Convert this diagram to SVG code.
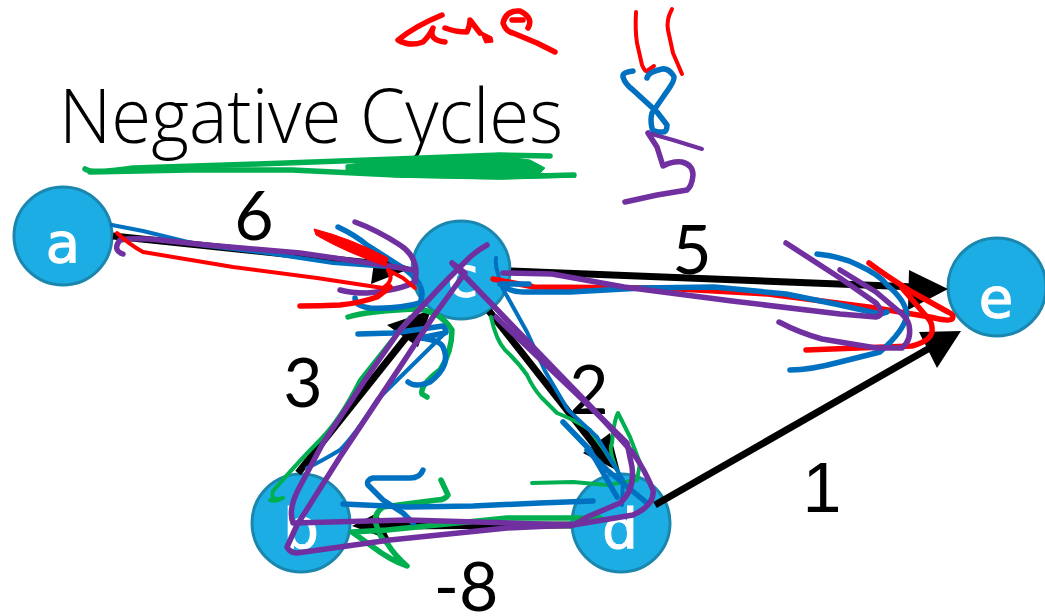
<svg xmlns="http://www.w3.org/2000/svg" width="1045" height="616" viewBox="0 0 1045 616">
<style>
.n{fill:#1CADE4;stroke:#1B87AE;stroke-width:3}
.nt{font-family:"DejaVu Sans",sans-serif;font-size:56px;fill:#fff;stroke:#fff;stroke-width:1.2px;text-anchor:middle}
.w{font-family:"Lato","Liberation Sans",sans-serif;font-size:68px;fill:#000;text-anchor:middle}
.e{fill:none;stroke:#000;stroke-width:7}
.i{fill:none;stroke-linecap:round;stroke-linejoin:round;stroke-width:5.5}
.r{stroke:#FF0000}.b{stroke:#0070C0}.p{stroke:#7030A0}.g{stroke:#00B050}
.t{stroke-width:4}
</style>
<rect width="1045" height="616" fill="#fff"/>
<text id="title" x="59" y="143" font-family="Open Sans,Noto Sans,sans-serif" font-weight="300" font-size="76" textLength="504" lengthAdjust="spacingAndGlyphs" fill="#000">Negative Cycles</text>
<g id="node-a"><circle class="n" cx="63" cy="236" r="49"/><text class="nt" x="63" y="262">a</text></g>
<g id="node-c"><circle class="n" cx="461" cy="270" r="49"/><text class="nt" x="463" y="296">c</text></g>
<g id="node-b"><circle class="n" cx="301" cy="523" r="49"/><text class="nt" x="301" y="548">b</text></g>
<g id="node-d"><circle class="n" cx="621" cy="523" r="49"/><text class="nt" x="620" y="548">d</text></g>
<g id="node-e"><circle class="n" cx="997" cy="287" r="49"/><text class="nt" x="996" y="317">e</text></g>
<g id="connectors">
<path class="e" d="M113 236L380 264"/><path d="M412 268L371 284L375 255Z"/>
<path class="e" d="M511 271L915 287"/><path d="M948 289L909 270L908 310Z"/>
<path class="e" d="M655 505L935 345"/><path d="M961 331L919 332L937 368Z"/>
<path class="e" d="M298 473L408 335"/><path d="M431 310L387 325L418 347Z"/>
<path class="e" d="M489 311L600 452"/><path d="M620 472L583 453L610 433Z"/>
<path class="e" d="M571 525L380 526"/><path d="M352 526L377 513L390 540Z"/>
</g>
<g id="labels">
<text class="w" x="254" y="240">6</text>
<text class="w" x="303" y="407">3</text>
<text class="w" x="692" y="274">5</text>
<text class="w" x="589" y="414">2</text>
<text class="w" x="822" y="512" style="font-family:'Liberation Sans',sans-serif;font-size:70px">1</text>
<text class="w" x="466" y="611">-8</text>
</g>
<g id="ink">
<path class="i g" d="M85 169Q92 174 133 168L258 164L396 159L500 155L550 156"/>
<path class="i g" d="M90 172L188 170L292 170L396 175L500 177L574 175"/>
<path fill="#00B050" stroke="#00B050" stroke-linejoin="round" d="M346 165L396 158L500 156L530 160L545 168L540 173L576 177L500 179L396 177L346 172Z"/>
<path class="i g" d="M348 317Q367 311 417 309Q440 311 452 330Q452 352 440 370Q420 385 422 394L427 397"/>
<path class="i g t" d="M270 500Q276 502 283 498Q270 502 273 491Q300 460 320 440Q340 420 360 380Q380 355 410 317"/>
<path class="i g t" d="M491 317Q496 340 505 350Q518 362 527 375Q533 388 541 397Q550 406 557 413Q575 420 590 430Q605 450 617 470Q608 450 612 443Q614 420 618 413L630 437L640 463L637 480L607 485L573 482L532 483"/>
<path class="i g" d="M441 480L448 495Q445 500 437 500L383 507Q372 515 377 527Q380 538 387 543Q395 556 407 566Q390 560 373 547L352 532L387 530L507 518L600 518"/>
<path class="i b" d="M358 334L393 333L443 326Q448 332 445 333L420 338Q440 340 443 347Q452 365 430 382Q415 388 408 382"/>
<path class="i b t" d="M445 333L377 400Q355 435 340 450Q320 462 307 468"/>
<path class="i b t" d="M112 225L143 231L200 245L267 253L333 263L400 268"/>
<path class="i b" d="M338 227Q355 235 367 245L403 268Q428 285 420 303Q400 309 370 308Q355 306 355 298"/>
<path class="i p" d="M355 222Q377 230 400 245Q420 258 415 282Q400 290 367 293Q350 293 340 290"/>
<path class="i p" d="M123 254Q112 250 120 240Q130 238 150 239L207 245L300 253L383 265L413 270"/>
<path class="i r t" d="M117 233Q130 245 143 252L233 267L317 278L383 288Q395 280 388 270L403 278L415 288"/>
<path class="i r" d="M300 306Q320 306 340 305Q360 303 377 297L390 287"/>
<path d="M314 229Q350 238 388 258L386 266Q345 252 316 235Z" fill="#FF0000" stroke="#FF0000" stroke-linejoin="round"/>
<path class="i b t" d="M496 258Q495 265 498 274Q502 290 507 296L527 332L545 371L568 410L597 437L623 480L622 505"/>
<path class="i b" d="M563 422L590 450L617 497"/>
<path class="i b" d="M587 450L607 470L647 503"/>
<path class="i b" d="M593 501L540 503L473 506L407 507L343 504"/>
<path class="i b" d="M423 470Q420 478 410 478L373 478Q366 480 368 485L383 500L403 513L413 523"/>
<path class="i r" d="M493 279L534 287L660 288L768 294L876 308L930 317Q950 322 952 319Q955 315 948 312L912 292Q885 275 869 263"/>
<path class="i r" d="M806 350L858 348L912 346Q934 340 932 328Q932 322 927 317L902 288"/>
<path class="i b" d="M500 284L529 284"/>
<path class="i b" d="M502 285Q510 292 523 292L570 292L642 288L714 287L786 294L840 305L880 314L887 312"/>
<path class="i b" d="M817 254Q840 256 858 265Q880 275 887 285Q905 300 907 314Q905 330 880 352L840 362Q810 370 790 370"/>
<path class="i p" d="M503 273L552 274L624 287L732 301L840 314L876 317Q886 315 876 303L840 278L786 243"/>
<path class="i p" d="M779 322Q800 333 822 339L876 348L902 348Q912 340 909 325Q908 320 902 314L876 292L840 270"/>
<path class="i p" d="M487 245Q478 250 470 257L447 280L400 330L367 377L323 443L298 490Q288 510 293 523L407 520L573 525Q580 522 587 517L620 503Q635 490 632 467L627 443L583 400L496 317"/>
<path class="i p" d="M452 263L465 273L433 317L400 367L340 457L297 525L287 547Q290 553 297 553L390 540L507 528L573 525L633 515Q655 505 653 490Q645 470 633 453L595 411L480 292L452 263"/>
<path class="i r" d="M442 15Q415 26 398 40Q410 47 423 42Q430 35 433 28Q428 40 445 42"/>
<path class="i r" d="M445 28Q456 32 467 32Q470 25 470 20L480 33"/>
<path d="M480 31L492 37L493 42L485 43Z" fill="#FF0000" stroke="#FF0000"/>
<path class="i r" d="M528 28Q534 18 520 11Q506 10 503 23Q506 32 513 33L537 43L555 52M512 20L523 20"/>
<path class="i r t" d="M636 12Q635 30 637 43L642 65Q645 72 647 71L654 66"/>
<path class="i r t" d="M672 9Q666 20 668 30L673 53L682 74"/>
<path class="i b" d="M633 71Q622 72 623 77Q625 84 633 90L657 112L667 125Q667 132 663 132Q652 132 652 128Q650 120 652 113L670 87Q676 78 673 75Q668 68 662 69Q648 72 647 78"/>
<path class="i p t" d="M702 149L673 140L648 133"/>
<path class="i p" d="M648 133L657 147L663 166Q672 161 682 162Q693 165 693 175Q692 186 687 190L657 195L625 202"/>
</g>
</svg>
